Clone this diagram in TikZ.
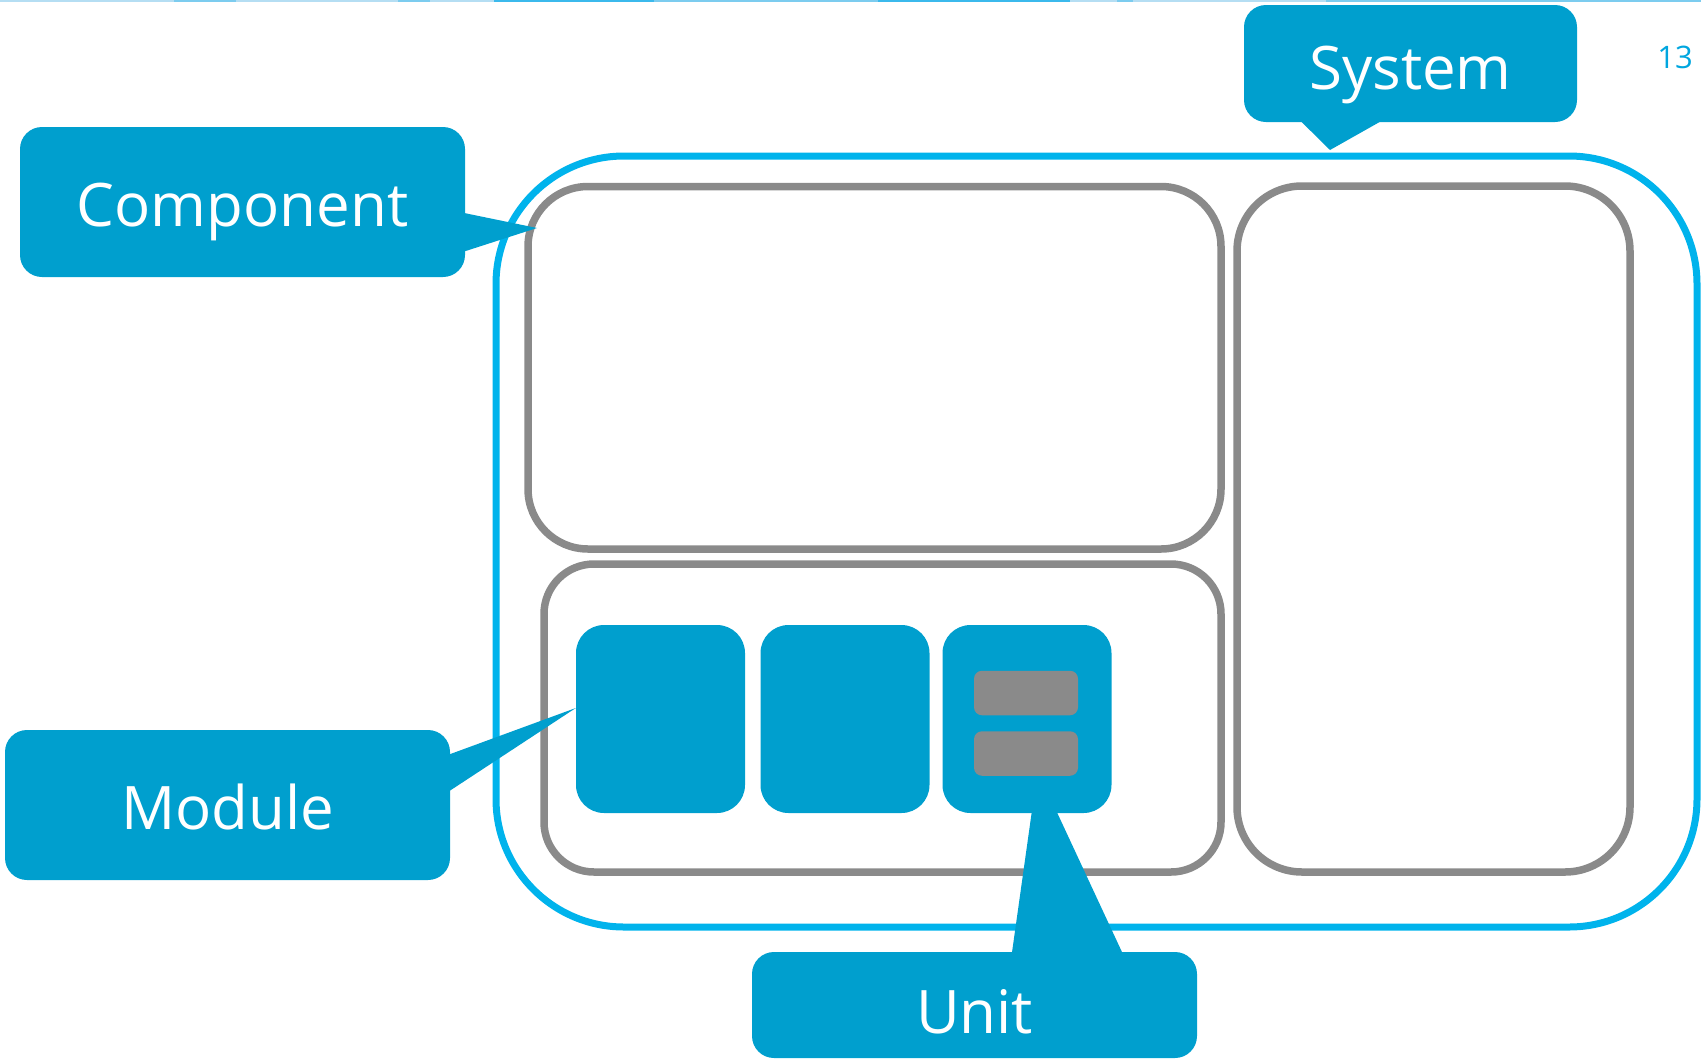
\documentclass[tikz,border=0pt]{standalone}
\usepackage{fontspec}
\setmainfont{Open Sans}
\definecolor{syscyan}{HTML}{00B3EC}
\definecolor{boxgray}{HTML}{8A8A8A}
\definecolor{calloutblue}{HTML}{009FCE}
\definecolor{pagecyan}{HTML}{00A6DF}
\definecolor{stripA}{HTML}{B5DEF3}
\definecolor{stripB}{HTML}{7CCCEF}
\definecolor{stripC}{HTML}{3BB9EC}
\tikzset{
  sysframe/.style={draw=syscyan, line width=7pt, rectangle, inner sep=0pt},
  grayframe/.style={draw=boxgray, line width=7.5pt, rectangle, inner sep=0pt},
  bluebox/.style={fill=calloutblue, rectangle, inner sep=0pt, rounded corners=28pt,
    minimum width=169pt, minimum height=188pt},
  slot/.style={fill=boxgray, rectangle, inner sep=0pt, rounded corners=8pt,
    minimum width=104pt, minimum height=44.5pt},
  callout/.style={fill=calloutblue, rectangle, inner sep=0pt, rounded corners=22pt,
    text=white, font=\fontsize{60}{72}\selectfont, text height=44pt, text depth=0pt},
  pointer/.style={fill=calloutblue},
}
\begin{document}
\begin{tikzpicture}[x=1pt, y=-1pt]
\useasboundingbox (0,0) rectangle (1701,1061);

% thin strip along the upper edge
\fill[stripA] (0,0) rectangle (174,2);
\fill[stripB] (174,0) rectangle (236,2);
\fill[stripA] (236,0) rectangle (398,2);
\fill[stripB] (398,0) rectangle (430,2);
\fill[stripA] (430,0) rectangle (494,2);
\fill[stripC] (494,0) rectangle (654,2);
\fill[stripB] (654,0) rectangle (878,2);
\fill[stripC] (878,0) rectangle (1070,2);
\fill[stripA] (1070,0) rectangle (1117,2);
\fill[stripB] (1117,0) rectangle (1133,2);
\fill[stripA] (1133,0) rectangle (1326,2);
\fill[stripB] (1326,0) rectangle (1701,2);

% system frame and its components
\node[sysframe, rounded corners=128pt, minimum width=1201pt, minimum height=771pt] (system) at (1096.5,541.5) {};
\node[grayframe, rounded corners=60pt, minimum width=693pt, minimum height=362.5pt] (compA) at (874.5,367.75) {};
\node[grayframe, rounded corners=65pt, minimum width=393pt, minimum height=686pt] (compB) at (1433.5,529) {};
\node[grayframe, rounded corners=50pt, minimum width=677pt, minimum height=308pt] (compC) at (882.5,718) {};

% modules
\node[bluebox] (modA) at (660.5,719) {};
\node[bluebox] (modB) at (845,719) {};
\node[bluebox] (modC) at (1027,719) {};
\node[slot] (unitA) at (1026,693) {};
\node[slot] (unitB) at (1026,753.5) {};

% pointer tips
\coordinate (systip) at (1330,150);
\coordinate (comptip) at (537,228);
\coordinate (modtip) at (modA.west |- 0,708);

% callouts
\node[callout, minimum width=333pt, minimum height=117pt] (sysLabel) at (1410.5,63.5) {\raisebox{-4pt}{System}};
\fill[pointer] ([xshift=56pt, yshift=2pt]sysLabel.south west) -- (systip) -- ([xshift=139pt, yshift=2pt]sysLabel.south west) -- cycle;

\node[callout, minimum width=445pt, minimum height=150pt] (compLabel) at (242.5,202) {\raisebox{-2pt}{Component}};
\fill[pointer] ([xshift=-2pt, yshift=-86pt]compLabel.north east) -- (comptip) -- ([xshift=-2pt, yshift=-125pt]compLabel.north east) -- cycle;

\node[callout, minimum width=445pt, minimum height=150pt] (modLabel) at (227.5,805) {\raisebox{-2pt}{Module}};
\fill[pointer] ([xshift=-2pt, yshift=-25pt]modLabel.north east) -- (modtip) -- ([xshift=-2pt, yshift=-62pt]modLabel.north east) -- cycle;

\node[callout, minimum width=445pt, minimum height=106pt] (unitLabel) at (974.5,1005) {\raisebox{-6pt}{Unit}};
\fill[pointer] ([xshift=260pt, yshift=-2pt]unitLabel.north west) -- ([xshift=5pt, yshift=3pt]modC.south) -- ([xshift=29pt, yshift=3pt]modC.south) -- ([xshift=371pt, yshift=-2pt]unitLabel.north west) -- cycle;

% page number
\node[text=pagecyan, inner sep=0pt, font=\fontsize{31}{36}\selectfont, text height=22pt, text depth=0pt] (pagenum) at (1675,57.5) {13};
\end{tikzpicture}
\end{document}
